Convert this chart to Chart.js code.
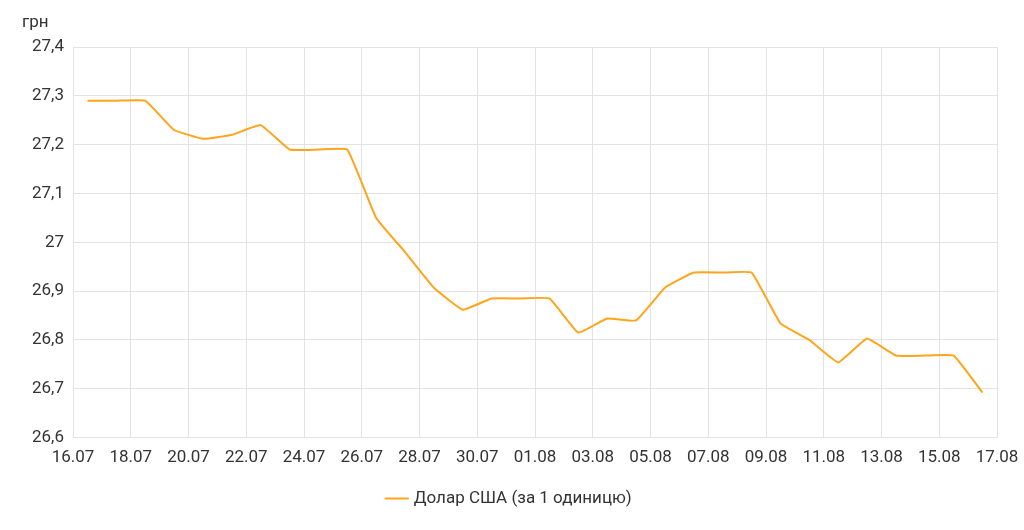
<!DOCTYPE html>
<html>
<head>
<meta charset="utf-8">
<script src="https://cdn.jsdelivr.net/npm/chart.js@4/dist/chart.umd.min.js"></script>
<style>
html,body{margin:0;padding:0;background:#fff;}
#wrap{width:1024px;height:530px;position:relative;}
</style>
</head>
<body>
<div id="wrap"><canvas id="c"></canvas></div>
<script>
const dates = ["16.07","17.07","18.07","19.07","20.07","21.07","22.07","23.07","24.07","25.07","26.07","27.07","28.07","29.07","30.07","31.07","01.08","02.08","03.08","04.08","05.08","06.08","07.08","08.08","09.08","10.08","11.08","12.08","13.08","14.08","15.08","16.08"];
const usdRates = [27.29,27.29,27.29,27.23,27.212,27.22,27.24,27.19,27.19,27.19,27.05,26.98,26.907,26.862,26.885,26.885,26.885,26.815,26.844,26.84,26.907,26.938,26.938,26.938,26.834,26.80,26.754,26.803,26.768,26.768,26.768,26.692];
const tickLabels = ["16.07","18.07","20.07","22.07","24.07","26.07","28.07","30.07","01.08","03.08","05.08","07.08","09.08","11.08","13.08","15.08","17.08"];
const seriesName = "Долар США (за 1 одиницю)";
const unitLabel = "грн";

const points = usdRates.map((v,i)=>({x:i+0.5,y:v}));
const font = {family:"Roboto", size:17};
const textColor = '#333333';

const unitPlugin = {
  id:'unitLabel',
  afterDraw(chart){
    const ctx = chart.ctx;
    ctx.save();
    ctx.font = '17px Roboto';
    ctx.fillStyle = textColor;
    ctx.textBaseline = 'middle';
    ctx.textAlign = 'left';
    ctx.fillText(unitLabel, 22, 23);
    ctx.restore();
  }
};

new Chart(document.getElementById('c'),{
  type:'line',
  data:{datasets:[{
    label:seriesName,
    data:points,
    borderColor:'#FFA41B',
    backgroundColor:'#FFA41B',
    borderWidth:2,
    pointRadius:0,
    pointHoverRadius:0,
    tension:0.1,
    fill:false
  }]},
  options:{
    responsive:true,
    maintainAspectRatio:false,
    animation:false,
    layout:{padding:{left:23,right:27,top:47,bottom:13}},
    plugins:{
      legend:{position:'bottom',labels:{color:textColor,font:font,usePointStyle:true,pointStyle:'line',boxWidth:20,padding:12}},
      tooltip:{enabled:false}
    },
    scales:{
      x:{type:'linear',min:0,max:32,
        afterFit:(s)=>{s.paddingRight=0;s.paddingLeft=0;},
        ticks:{stepSize:2,color:textColor,font:font,maxRotation:0,autoSkip:false,padding:10,
          callback:(v)=>tickLabels[Math.round(v/2)]},
        grid:{color:'#e3e3e3',drawTicks:false},
        border:{display:true,color:'#e3e3e3'}
      },
      y:{min:26.6,max:27.4,
        ticks:{stepSize:0.1,color:textColor,font:font,padding:9,
          callback:(v)=>{let s=(Math.round(v*10)/10).toFixed(1).replace('.',',');return s.endsWith(',0')?s.slice(0,-2):s;}},
        grid:{color:'#e3e3e3',drawTicks:false},
        border:{display:true,color:'#e3e3e3'}
      }
    }
  },
  plugins:[unitPlugin]
});
</script>
</body>
</html>
